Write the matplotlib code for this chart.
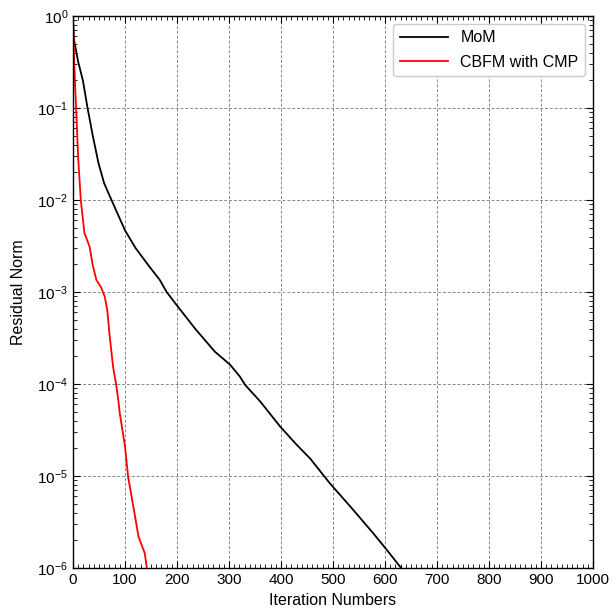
import numpy as np
import matplotlib.pyplot as plt
from matplotlib.ticker import MultipleLocator, LogLocator, NullFormatter

plt.rcParams["font.family"] = ["Liberation Sans", "DejaVu Sans"]

# residual history (iteration, log10 residual)
mom_iter = [0, 2, 10, 19, 28, 38, 49, 60, 74, 100, 120, 145, 167, 180, 199, 235,
            273, 302, 321, 331, 360, 398, 430, 456, 494, 533, 577, 603, 631]
mom_log = [-0.05, -0.26, -0.50, -0.70, -1.0, -1.30, -1.60, -1.82, -2.0, -2.33, -2.52,
           -2.71, -2.87, -3.0, -3.14, -3.40, -3.65, -3.79, -3.92, -4.01, -4.19, -4.46,
           -4.66, -4.81, -5.08, -5.33, -5.62, -5.80, -6.0]

cbfm_iter = [0, 2, 4, 6, 10, 15, 22, 32, 38, 45, 54, 61, 66, 70, 77, 83, 87,
             90, 100, 106, 116, 126, 132, 138, 142]
cbfm_log = [-0.05, -0.45, -0.75, -1.0, -1.55, -2.0, -2.36, -2.51, -2.71, -2.87, -2.95,
            -3.05, -3.2, -3.45, -3.81, -4.01, -4.17, -4.32, -4.68, -5.01, -5.33, -5.66,
            -5.75, -5.84, -6.0]

mom_res = 10.0 ** np.array(mom_log)
cbfm_res = 10.0 ** np.array(cbfm_log)

fig = plt.figure(figsize=(6.15, 6.10), dpi=100)
ax = fig.add_axes([0.1187, 0.0689, 0.8455, 0.9049])

ax.semilogy(mom_iter, mom_res, color="black", lw=1.3, label="MoM")
ax.semilogy(cbfm_iter, cbfm_res, color="red", lw=1.3, label="CBFM with CMP")

ax.set_xlim(0, 1000)
ax.set_ylim(1e-6, 1)
ax.xaxis.set_major_locator(MultipleLocator(100))
ax.xaxis.set_minor_locator(MultipleLocator(10))
ax.yaxis.set_major_locator(LogLocator(base=10, numticks=10))
ax.yaxis.set_minor_locator(LogLocator(base=10, subs=np.arange(2, 10), numticks=20))
ax.yaxis.set_minor_formatter(NullFormatter())

ax.tick_params(which="both", direction="in", top=True, right=True, labelsize=11)
ax.tick_params(which="major", length=5, width=0.8)
ax.tick_params(which="minor", length=3, width=0.6)
for s in ax.spines.values():
    s.set_linewidth(1.0)

ax.grid(True, which="major", ls=(0, (3, 2)), color="#888888", lw=0.7)

ax.set_xlabel("Iteration Numbers", fontsize=11.5, labelpad=4.5)
ax.set_ylabel("Residual Norm", fontsize=11.5, labelpad=8)

ax.legend(loc="upper right", fontsize=11.5, handlelength=3.0, borderaxespad=0.5,
          labelspacing=0.6, framealpha=1, edgecolor="#cccccc", fancybox=True)

fig.savefig("out.png", dpi=100)
